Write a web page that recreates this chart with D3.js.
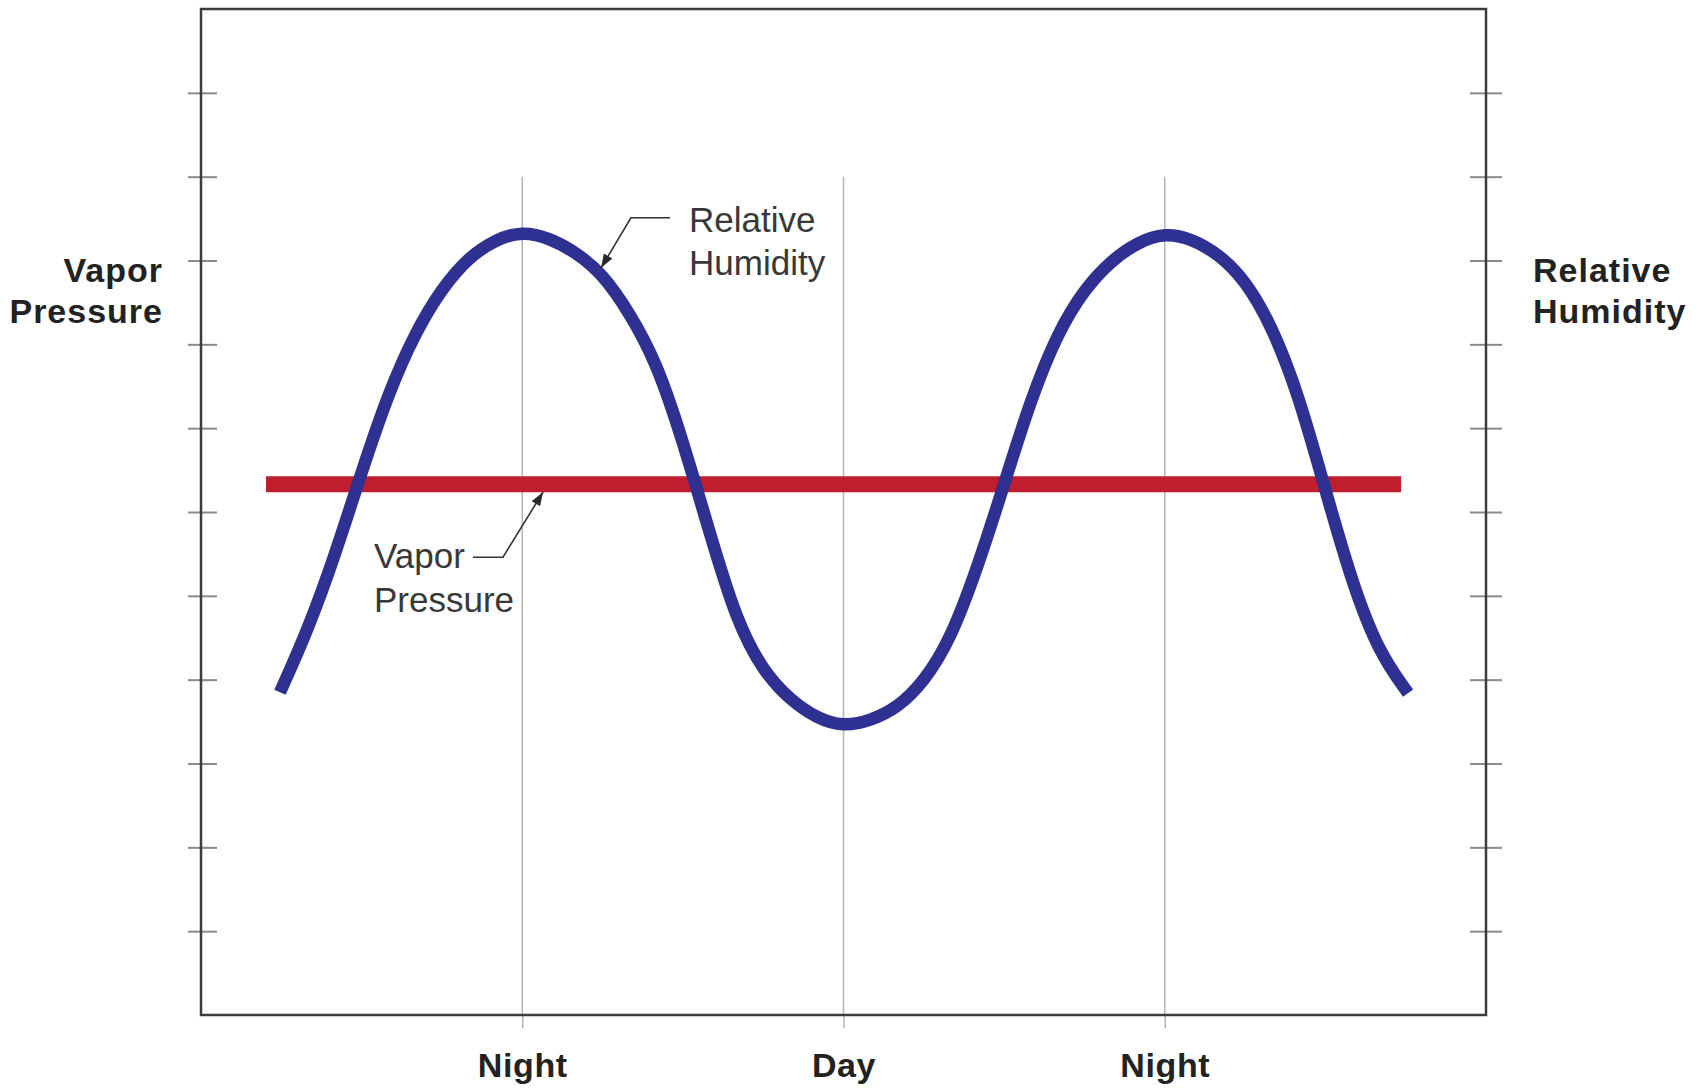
<!DOCTYPE html>
<html>
<head>
<meta charset="utf-8">
<script src="https://cdn.jsdelivr.net/npm/d3@7"></script>
<style>
  html, body { margin: 0; padding: 0; background: #fff; }
  svg text { font-family: "Liberation Sans", Arial, Helvetica, sans-serif; }
</style>
</head>
<body>
<div id="chart"></div>
<script>
// Hours across the two days (Night = 12, Day = 24, Night = 36)
const rhHours = [2.95, 4, 5, 6, 7, 8, 9, 10, 11, 12, 13, 14, 15, 16, 17, 18, 19, 20, 21, 22, 23, 24,
    25, 26, 27, 28, 29, 30, 31, 32, 33, 34, 35, 36, 37, 38, 39, 40, 41, 42, 43, 44, 45.09];
// Relative humidity, in tick units
const rhValues = [3.85, 4.60, 5.48, 6.48, 7.42, 8.14, 8.67, 9.04, 9.25, 9.35, 9.27, 9.10, 8.84, 8.38,
    7.80, 6.85, 5.75, 4.70, 4.10, 3.76, 3.54, 3.44,
    3.51, 3.66, 3.97, 4.48, 5.33, 6.33, 7.35, 8.14, 8.66, 9.00, 9.22, 9.33,
    9.26, 9.08, 8.77, 8.22, 7.40, 6.26, 5.15, 4.32, 3.84];

// Vapor pressure stays flat
const vpHours = [2.43, 44.83];
const vpValues = [6.33, 6.33];

const yTicks = [1, 2, 3, 4, 5, 6, 7, 8, 9, 10, 11];
const xTicks = [12, 24, 36];
const xLabels = ["Night", "Day", "Night"];

// callout anchors (hours, value): tip, elbow, end of leader
const rhCallout = [[14.94, 8.91], [16.06, 9.51], [17.52, 9.51]];
const vpCallout = [[12.78, 6.24], [11.28, 5.46], [10.16, 5.46]];

const W = 1703, H = 1090;
const margin = { top: 9, right: 217, bottom: 75, left: 201 };

const svg = d3.select("#chart").append("svg")
    .attr("width", W)
    .attr("height", H);

const defs = svg.append("defs");
defs.append("marker")
    .attr("id", "arrow")
    .attr("viewBox", "0 0 10 10")
    .attr("refX", 10).attr("refY", 5)
    .attr("markerWidth", 14).attr("markerHeight", 14)
    .attr("markerUnits", "userSpaceOnUse")
    .attr("orient", "auto")
    .append("path")
    .attr("d", "M0,1.5 L10,5 L0,8.5 Z")
    .attr("fill", "#2a2a2a");

const x = d3.scaleLinear().domain([0, 48]).range([margin.left, W - margin.right]);
const y = d3.scaleLinear().domain([0, 12]).range([H - margin.bottom, margin.top]);

// vertical grid lines
svg.append("g").selectAll("line")
    .data(xTicks)
    .enter().append("line")
    .attr("x1", d => x(d)).attr("x2", d => x(d))
    .attr("y1", y(10)).attr("y2", y(0))
    .attr("stroke", "#b4b4b4")
    .attr("stroke-width", 1.5);

// tick marks that straddle the left and right frame
svg.append("g")
    .attr("transform", `translate(${x(0) + 16},0)`)
    .call(d3.axisLeft(y).tickValues(yTicks).tickSize(29).tickFormat(""))
    .call(g => g.select(".domain").remove())
    .selectAll(".tick line").attr("stroke", "#8a8a8a").attr("stroke-width", 2);

svg.append("g")
    .attr("transform", `translate(${x(48) - 16},0)`)
    .call(d3.axisRight(y).tickValues(yTicks).tickSize(32).tickFormat(""))
    .call(g => g.select(".domain").remove())
    .selectAll(".tick line").attr("stroke", "#8a8a8a").attr("stroke-width", 2);

// bottom axis with day / night labels
const xAxis = svg.append("g")
    .attr("transform", `translate(0,${y(0)})`)
    .call(d3.axisBottom(x).tickValues(xTicks).tickSize(13).tickFormat((d, i) => xLabels[i]));
xAxis.select(".domain").remove();
xAxis.selectAll(".tick line").attr("stroke", "#b4b4b4").attr("stroke-width", 1.5);
xAxis.selectAll(".tick text")
    .attr("y", 62).attr("dy", 0)
    .attr("fill", "#222")
    .style("font-size", "34px")
    .style("font-weight", "bold")
    .style("letter-spacing", "0.6px");

// frame
svg.append("rect")
    .attr("x", x(0)).attr("y", y(12))
    .attr("width", x(48) - x(0))
    .attr("height", y(0) - y(12))
    .attr("fill", "none")
    .attr("stroke", "#3c3c3c")
    .attr("stroke-width", 2.5);

// vapor pressure
const vpLine = d3.line()
    .x(d => x(d[0]))
    .y(d => y(d[1]));

svg.append("path")
    .datum(vpHours.map((h, i) => [h, vpValues[i]]))
    .attr("d", vpLine)
    .attr("fill", "none")
    .attr("stroke", "#be1e2d")
    .attr("stroke-width", 16);

// relative humidity, smoothed
const rhLine = d3.line()
    .x(d => x(d[0]))
    .y(d => y(d[1]))
    .curve(d3.curveBasis);

svg.append("path")
    .datum(rhHours.map((h, i) => [h, rhValues[i]]))
    .attr("d", rhLine)
    .attr("fill", "none")
    .attr("stroke", "#2e3192")
    .attr("stroke-width", 12.5);

// callouts
function callout(pts, lines, textX) {
    svg.append("path")
        .attr("d", d3.line()(pts.slice().reverse().map(p => [x(p[0]), y(p[1])])))
        .attr("fill", "none")
        .attr("stroke", "#333")
        .attr("stroke-width", 1.6)
        .attr("marker-end", "url(#arrow)");
    const t = svg.append("text")
        .attr("fill", "#383838")
        .style("font-size", "35px");
    lines.forEach(s => {
        t.append("tspan").attr("x", textX).attr("y", s.y).text(s.text);
    });
}

callout(rhCallout, [{ text: "Relative", y: 232 }, { text: "Humidity", y: 275 }],
    x(rhCallout[2][0]) + 19);
callout(vpCallout, [{ text: "Vapor", y: 568 }, { text: "Pressure", y: 612 }], 374);

// side titles
const side = [
    { lines: ["Vapor", "Pressure"], x: 163, anchor: "end" },
    { lines: ["Relative", "Humidity"], x: 1533, anchor: "start" }
];
side.forEach(s => {
    const t = svg.append("text")
        .attr("text-anchor", s.anchor)
        .attr("fill", "#222")
        .style("font-size", "34px")
        .style("font-weight", "bold")
        .style("letter-spacing", "1px");
    s.lines.forEach((l, i) => {
        t.append("tspan").attr("x", s.x).attr("y", 282 + i * 41).text(l);
    });
});
</script>
</body>
</html>
